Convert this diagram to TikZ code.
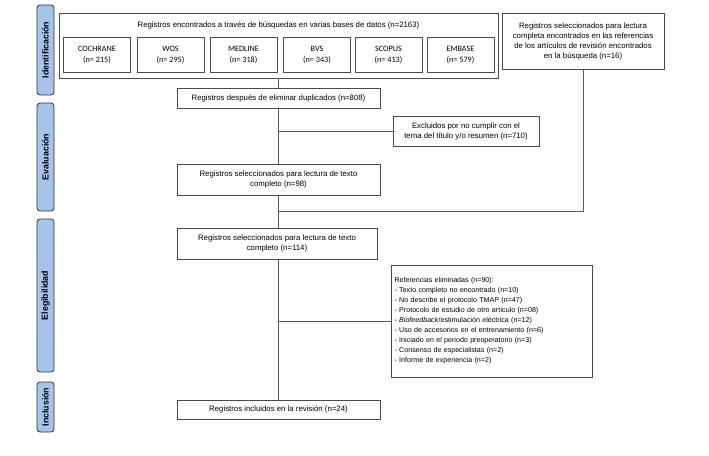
\documentclass[tikz,border=0pt]{standalone}
\usepackage{fontspec}
\setmainfont{Liberation Sans}
\newfontfamily\calfont{Carlito}
\definecolor{barfill}{HTML}{A6C4EA}
\definecolor{bordergray}{HTML}{4A4A4A}
\definecolor{linegray}{HTML}{5A5A5A}
\begin{document}
\begin{tikzpicture}[x=1pt,y=-1pt,
  box/.style={draw=bordergray, line width=0.7pt, fill=white, inner sep=0pt,
    align=center, font=\fontsize{7.8}{10}\selectfont},
  dbbox/.style={box, minimum width=67pt, minimum height=35pt,
    font=\calfont\fontsize{8.2}{11}\selectfont},
  phase/.style={draw=black!80, line width=0.8pt, fill=barfill, rounded corners=3pt,
    minimum height=17pt, inner sep=0pt, rotate=90,
    font=\bfseries\fontsize{8.8}{9}\selectfont},
  conn/.style={draw=linegray, line width=0.6pt}]
\useasboundingbox (0,0) rectangle (709,455);
\fill[white] (0,0) rectangle (709,455);

% phase bars
\node[phase, minimum width=90pt] (p1) at (45.5,50) {Identificación};
\node[phase, minimum width=108pt] (p2) at (45.5,157) {Evaluación};
\node[phase, minimum width=153pt] (p3) at (45.5,295.5) {Elegibilidad};
\node[phase, minimum width=50pt] (p4) at (45.5,407) {Inclusión};

% identification
\node[box, minimum width=439pt, minimum height=65pt] (main) at (278.5,45.5) {};
\node[font=\fontsize{7.8}{10}\selectfont, inner sep=0pt] (maintitle) at (278.5,25) {Registros encontrados a través de búsquedas en varias bases de datos (n=2163)};
\node[dbbox] (d1) at (97,54.5) {COCHRANE\\(n= 215)};
\node[dbbox] (d2) at (170.5,54.5) {WOS\\(n= 295)};
\node[dbbox] (d3) at (243.5,54.5) {MEDLINE\\(n= 318)};
\node[dbbox] (d4) at (317,54.5) {BVS\\(n= 343)};
\node[dbbox] (d5) at (388.5,54.5) {SCOPUS\\(n= 413)};
\node[dbbox] (d6) at (460.5,54.5) {EMBASE\\(n= 579)};

\node[box, minimum width=162pt, minimum height=56pt] (right) at (583,41)
  {Registros seleccionados para lectura\\completa encontrados en las referencias\\de los artículos de revisión encontrados\\en la búsqueda (n=16)};

\node[box, minimum width=203pt, minimum height=20pt] (dup) at (278.5,98)
  {Registros después de eliminar duplicados (n=808)};
\node[box, minimum width=146pt, minimum height=30pt] (excl) at (466,131)
  {Excluidos por no cumplir con el\\tema del título y/o resumen (n=710)};
\node[box, minimum width=203pt, minimum height=31pt] (n98) at (278.5,179.5)
  {Registros seleccionados para lectura de texto\\completo (n=98)};
\node[box, minimum width=200pt, minimum height=31pt] (n114) at (277,243.5)
  {Registros seleccionados para lectura de texto\\completo (n=114)};
\node[box, minimum width=201pt, minimum height=112pt, align=left, text width=194pt,
  font=\fontsize{7.1}{10}\selectfont] (refs) at (491.5,321)
  {Referencias eliminadas (n=90):\\
  - Texto completo no encontrado (n=10)\\
  - No describe el protocolo TMAP (n=47)\\
  - Protocolo de estudio de otro artículo (n=08)\\
  - \textit{Biofeedback}/estimulación eléctrica (n=12)\\
  - Uso de accesorios en el entrenamiento (n=6)\\
  - Iniciado en el periodo preoperatorio (n=3)\\
  - Consenso de especialistas (n=2)\\
  - Informe de experiencia (n=2)};
\node[box, minimum width=203pt, minimum height=19pt] (incl) at (278.5,409.5)
  {Registros incluidos en la revisión (n=24)};

% connectors
\coordinate (j) at (278.5,211);
\draw[conn] (main.south) -- (dup.north);
\draw[conn] (dup.south) -- (n98.north);
\draw[conn] (dup.south |- excl.west) -- (excl.west);
\draw[conn] (n98.south) -- (n98.south |- n114.north);
\draw[conn] (right.south) |- (j);
\draw[conn] (n98.south |- n114.south) -- (incl.north);
\draw[conn] (n98.south |- refs.west) -- (refs.west);
\end{tikzpicture}
\end{document}
